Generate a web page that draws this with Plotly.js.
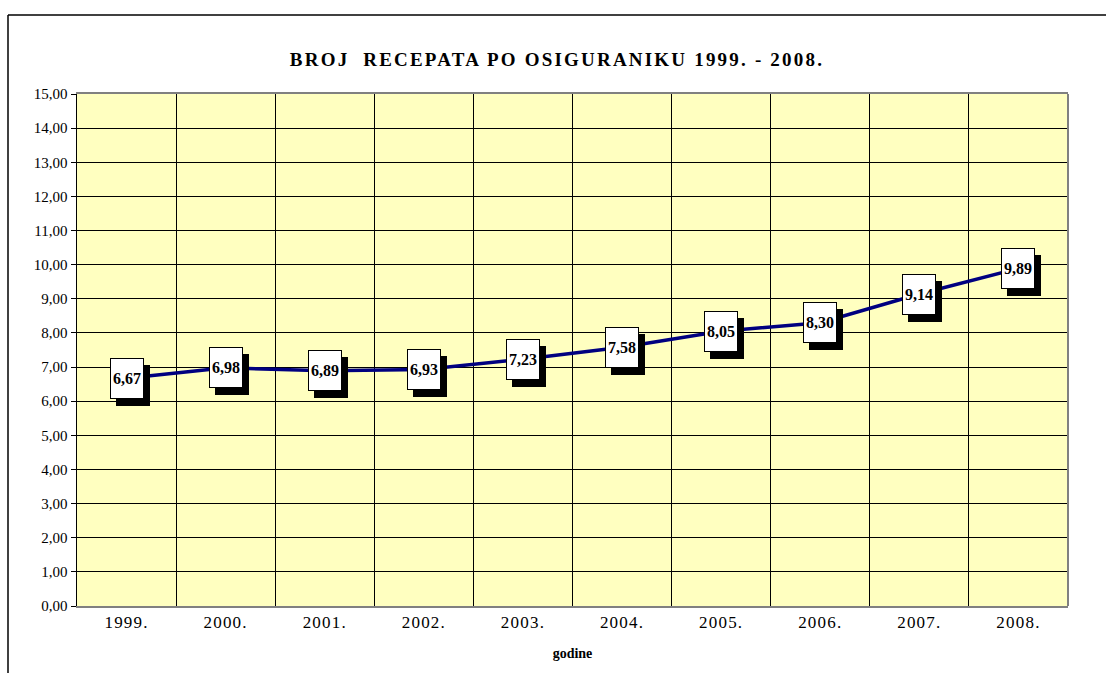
<!DOCTYPE html>
<html>
<head>
<meta charset="utf-8">
<script src="https://cdn.plot.ly/plotly-3.0.1.min.js"></script>
<style>
html,body{margin:0;padding:0;background:#fff;}
#chart{width:1109px;height:673px;}
#chart .gtitle{letter-spacing:2.2px;}
#chart .xtick text{letter-spacing:1.2px;}
</style>
</head>
<body>
<div id="chart"></div>
<script>
var years = ["1999.", "2000.", "2001.", "2002.", "2003.", "2004.", "2005.", "2006.", "2007.", "2008."];
var values = [6.67, 6.98, 6.89, 6.93, 7.23, 7.58, 8.05, 8.30, 9.14, 9.89];
var labels = ["6,67", "6,98", "6,89", "6,93", "7,23", "7,58", "8,05", "8,30", "9,14", "9,89"];
var titleText = "BROJ  RECEPATA PO OSIGURANIKU 1999. - 2008.";
var xTitle = "godine";

var W = 1109, H = 673;
var L = 77, R = 41, T = 94, B = 67;
var pw = W - L - R, ph = H - T - B;
function px(x){ return (x - L) / pw; }
function py(y){ return (H - B - y) / ph; }

var serif = "Liberation Serif, Times New Roman, serif";

var idx = years.map(function(_, i){ return i; });
var bounds = [];
for (var b = 0; b <= years.length; b++) bounds.push(b - 0.5);

var trace = {
  x: idx, y: values, type: "scatter", mode: "lines",
  line: {color: "#000080", width: 3.5},
  hoverinfo: "skip"
};

var annotations = [];
for (var i = 0; i < years.length; i++) {
  annotations.push({
    x: idx[i], y: values[i], xref: "x", yref: "y", text: "&nbsp;", showarrow: false,
    font: {family: serif, size: 16, color: "#000"},
    bgcolor: "#000", bordercolor: "#000", borderwidth: 1, borderpad: 0,
    width: 32, height: 39, xshift: 6, yshift: -7
  });
}
for (var j = 0; j < years.length; j++) {
  annotations.push({
    x: idx[j], y: values[j], xref: "x", yref: "y", text: "<b>" + labels[j] + "</b>", showarrow: false,
    font: {family: serif, size: 16, color: "#000"},
    bgcolor: "#fff", bordercolor: "#000", borderwidth: 1, borderpad: 0,
    width: 32, height: 39
  });
}

var shapes = [
  {type: "line", xref: "paper", yref: "paper", x0: px(8), x1: px(1106), y0: py(15), y1: py(15), line: {color: "#000", width: 1.5}},
  {type: "line", xref: "paper", yref: "paper", x0: px(8), x1: px(8), y0: py(15), y1: py(680), line: {color: "#000", width: 1.5}},
  {type: "line", xref: "paper", yref: "paper", x0: 1, x1: 1, y0: 0, y1: 1, line: {color: "#808080", width: 2}}
];

var layout = {
  width: W, height: H,
  margin: {l: L, r: R, t: T, b: B, pad: 0},
  paper_bgcolor: "#fff",
  plot_bgcolor: "#FFFFC0",
  separators: ", ",
  showlegend: false,
  title: {
    text: "<b>" + titleText + "</b>",
    font: {family: serif, size: 19, color: "#000"},
    x: 557 / W, xanchor: "center", y: 1 - 59 / H, yanchor: "middle"
  },
  xaxis: {
    type: "linear",
    range: [-0.5, years.length - 0.5],
    tickmode: "array", tickvals: idx, ticktext: years,
    showgrid: false,
    minor: {tickmode: "array", tickvals: bounds, showgrid: true, gridcolor: "#000", gridwidth: 1, ticks: ""},
    showline: true, linecolor: "#808080", linewidth: 2, mirror: true,
    ticks: "", ticklen: 0, zeroline: false,
    tickfont: {family: serif, size: 17, color: "#000"},
    title: {text: "<b>" + xTitle + "</b>", font: {family: serif, size: 14, color: "#000"}, standoff: 17},
    fixedrange: true
  },
  yaxis: {
    range: [0, 15], tick0: 0, dtick: 1, tickformat: ".2f",
    showgrid: true, gridcolor: "#000", gridwidth: 1,
    showline: true, linecolor: "#000", linewidth: 1.5,
    ticks: "outside", ticklen: 5, tickcolor: "#000", tickwidth: 1,
    tickfont: {family: serif, size: 15, color: "#000"},
    zeroline: false,
    fixedrange: true
  },
  annotations: annotations,
  shapes: shapes
};

Plotly.newPlot("chart", [trace], layout, {displayModeBar: false, staticPlot: true});
</script>
</body>
</html>
